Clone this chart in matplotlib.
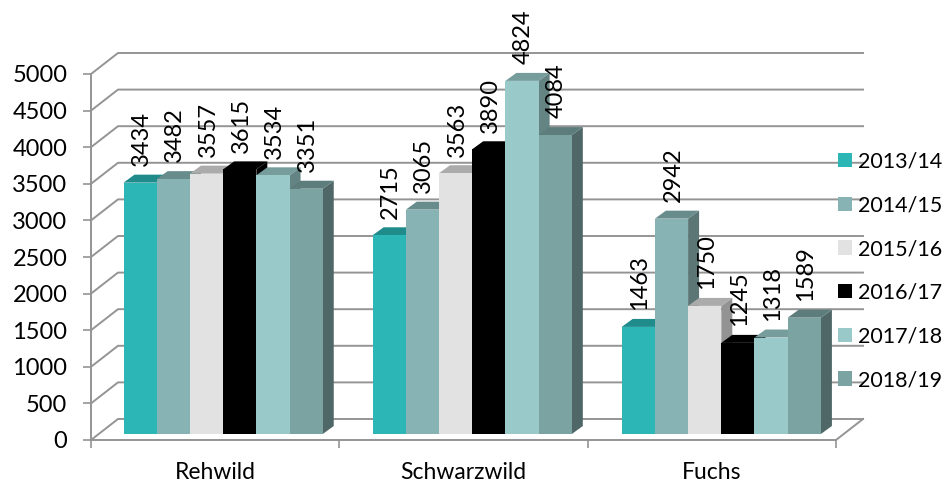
import matplotlib
matplotlib.use("Agg")
import matplotlib.pyplot as plt
from matplotlib.patches import Patch, Polygon

plt.rcParams['font.family'] = ['Lato', 'DejaVu Sans']
plt.rcParams['font.size'] = 13

# Daten
categories = ["Rehwild", "Schwarzwild", "Fuchs"]
seasons = ["2013/14", "2014/15", "2015/16", "2016/17", "2017/18", "2018/19"]
rehwild = [3434, 3482, 3557, 3615, 3534, 3351]
schwarzwild = [2715, 3065, 3563, 3890, 4824, 4084]
fuchs = [1463, 2942, 1750, 1245, 1318, 1589]
y_ticks = [0, 500, 1000, 1500, 2000, 2500, 3000, 3500, 4000, 4500, 5000]

# Farben: Front, Oberseite, Seite
front = ["#2CB6B6", "#88B3B4", "#E2E2E2", "#000000", "#9AC9C9", "#7BA3A2"]
top = ["#1F8B8B", "#688C8C", "#ABABAB", "#000000", "#769C9C", "#5D7D7C"]
side = ["#1A7272", "#5B7675", "#939393", "#000000", "#648383", "#4F6867"]
grid_col = "#949494"

# 3D-Versatz in Datenkoordinaten
wall_dx, wall_dy = 0.1087, 287
bar_dx, bar_dy = 0.0443, 109
lift = 82
bar_w = 0.1337
start = 0.131
group_step = 1.003

fig = plt.figure(figsize=(9.45, 4.84), dpi=100)
ax = fig.add_axes([91 / 945, 44 / 484, 745 / 945, 366 / 484])
ax.set_xlim(0, 3)
ax.set_ylim(0, 5000)

# Wand und Boden
for t in y_ticks:
    ax.plot([0, wall_dx, 3 + wall_dx], [t, t + wall_dy, t + wall_dy],
            color=grid_col, lw=1.4, clip_on=False, zorder=1)
ax.plot([3, 3 + wall_dx], [0, wall_dy], color=grid_col, lw=1.4, clip_on=False, zorder=1)

# Balken
for g, vals in enumerate([rehwild, schwarzwild, fuchs]):
    for i, v in enumerate(vals):
        x0 = g * group_step + start + i * bar_w
        x1 = x0 + bar_w
        yt = v + lift
        z = 2 + g + i * 0.1
        ax.add_patch(Polygon([(x1, lift), (x1 + bar_dx, lift + bar_dy),
                              (x1 + bar_dx, yt + bar_dy), (x1, yt)],
                             fc=side[i], ec="none", clip_on=False, zorder=z))
        ax.add_patch(Polygon([(x0, yt), (x0 + bar_dx, yt + bar_dy),
                              (x1 + bar_dx, yt + bar_dy), (x1, yt)],
                             fc=top[i], ec="none", clip_on=False, zorder=z))
        ax.bar(x0, v, bar_w, bottom=lift, align="edge", color=front[i],
               clip_on=False, zorder=z + 0.01)
        ax.annotate(str(v), (x0 + bar_w / 2, yt), xytext=(1, 12), textcoords="offset points",
                    rotation=90, ha="center", va="bottom", fontsize=17, zorder=20,
                    annotation_clip=False)

# Achsen
for s in ["top", "right"]:
    ax.spines[s].set_visible(False)
for s in ["left", "bottom"]:
    ax.spines[s].set_color(grid_col)
    ax.spines[s].set_linewidth(1.4)
    ax.spines[s].set_zorder(1)
ax.set_yticks(y_ticks)
ax.set_xticks([0, 1, 2, 3])
ax.set_xticklabels([])
ax.set_xticks([0.5, 1.5, 2.5], categories, minor=True)
ax.tick_params(axis="both", which="major", color=grid_col, width=1.2, length=6)
ax.tick_params(axis="x", which="minor", length=0, pad=15.5, labelsize=16.5)
ax.tick_params(axis="y", pad=11, labelsize=17)
for lab in ax.get_yticklabels():
    lab.set_verticalalignment("center_baseline")

# Legende
handles = [Patch(fc=c, ec="none") for c in front]
ax.legend(handles, seasons, loc="center left", bbox_to_anchor=(838 / 945, 213 / 484),
          bbox_transform=fig.transFigure, frameon=False, fontsize=15.5,
          handlelength=0.65, handleheight=0.65, handletextpad=0.3,
          labelspacing=1.1, borderaxespad=0, borderpad=0).set_zorder(30)

fig.savefig("out.png", dpi=100)
